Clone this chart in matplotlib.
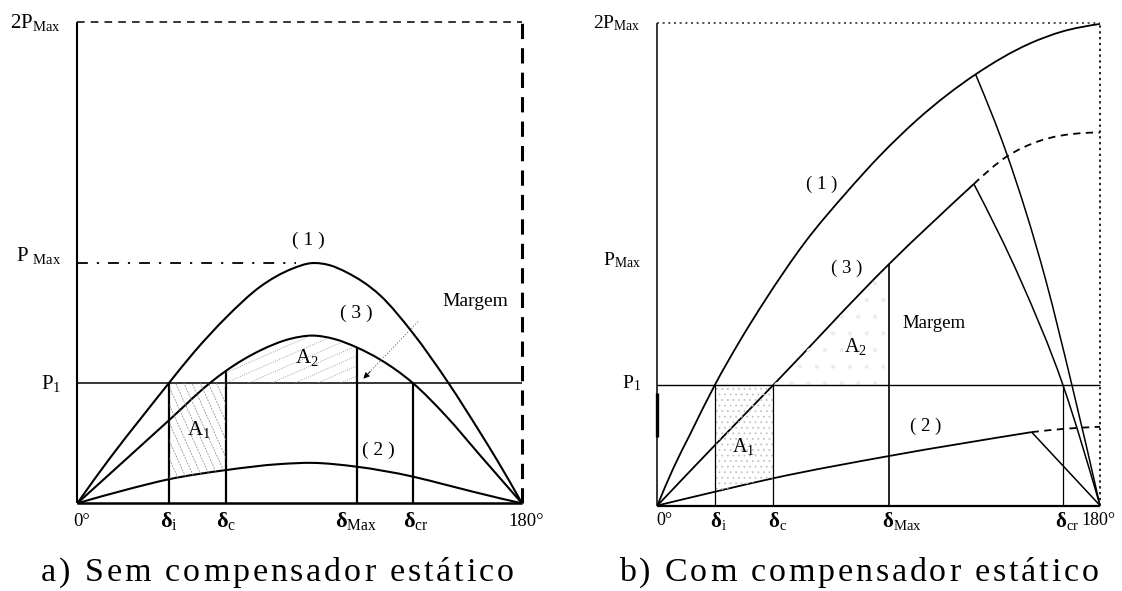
import numpy as np
import matplotlib
matplotlib.use('Agg')
import matplotlib.pyplot as plt
from matplotlib.patches import Polygon, PathPatch
from matplotlib.path import Path
from matplotlib.textpath import TextToPath
from matplotlib.font_manager import FontProperties

plt.rcParams['mathtext.fontset'] = 'custom'
plt.rcParams['mathtext.rm'] = 'Liberation Serif'
plt.rcParams['mathtext.it'] = 'Liberation Serif:italic'
plt.rcParams['mathtext.bf'] = 'Liberation Serif:bold'
plt.rcParams['font.family'] = ['Liberation Serif', 'DejaVu Serif']
plt.rcParams['hatch.linewidth'] = 0.6

# ---------------- data (angle in degrees, power in units of P_Max) ----------------
P1_LEVEL = 0.5
PMAX_LEVEL = 1.0
P2MAX_LEVEL = 2.0

# panel a) without static compensator
a_c1_deg = [0, 13, 26.5, 37.1, 47, 60.5, 74, 87, 94.6, 102, 109, 122.5, 136, 149.9, 163, 170, 180]
a_c1_p = [0, 0.185, 0.363, 0.5, 0.625, 0.775, 0.9, 0.975, 0.998, 0.99, 0.96, 0.865, 0.705, 0.505, 0.295, 0.178, 0]
a_c3_deg = [0, 37.1, 53.7, 60.1, 74, 86, 95.4, 104, 113.1, 122.5, 135.8, 149.5, 163, 180]
a_c3_p = [0, 0.345, 0.5, 0.55, 0.635, 0.683, 0.697, 0.683, 0.648, 0.598, 0.5, 0.36, 0.2, 0]
a_c2_deg = [0, 20, 37.1, 60.1, 82, 95.4, 113.1, 135.8, 149.5, 171, 180]
a_c2_p = [0, 0.057, 0.10, 0.138, 0.163, 0.168, 0.152, 0.111, 0.076, 0.021, 0]
a_delta_pos = [37.1, 60.1, 113.1, 135.8]
a_delta_top = [0.5, 0.55, 0.648, 0.5]
a_pmax_dash_end = 88.5

# panel b) with static compensator
b_c1_deg = [0, 6.5, 13.3, 23.4, 33.6, 43.8, 60, 77, 90.5, 106.1, 129.4, 151.5, 164.5, 180]
b_c1_p = [0, 0.155, 0.295, 0.5, 0.683, 0.85, 1.09, 1.298, 1.449, 1.602, 1.786, 1.914, 1.963, 1.995]
b_c3_deg = [0, 23.4, 47.2, 94.2, 128.7]
b_c3_p = [0, 0.25, 0.5, 1.0, 1.332]
b_c3_dash_deg = [128.7, 142, 155.6, 171.9, 180]
b_c3_dash_p = [1.332, 1.445, 1.511, 1.542, 1.545]
b_c2_deg = [0, 23.4, 47.2, 94.2, 152.2]
b_c2_p = [0, 0.057, 0.113, 0.205, 0.304]
b_c2_dash_deg = [152.2, 166, 180]
b_c2_dash_p = [0.304, 0.318, 0.326]
b_fall1_deg = [129.4, 142.0, 157.9, 168.6, 180]
b_fall1_p = [1.786, 1.459, 0.935, 0.498, 0]
b_fall3_deg = [128.7, 147.7, 164.9, 180]
b_fall3_p = [1.332, 0.934, 0.5, 0]
b_fall2_deg = [152.2, 180]
b_fall2_p = [0.304, 0]
b_delta_pos = [23.4, 47.2, 94.2, 164.9]
b_delta_top = [0.5, 0.5, 1.0, 0.5]

y_labels_a = [r'$\mathrm{2P}_{\mathrm{Max}}$', r'$\mathrm{P\ }_{\mathrm{Max}}$', r'$\mathrm{P}_{1}$']
y_labels_b = [r'$\mathrm{2P}_{\mathrm{Max}}$', r'$\mathrm{P}_{\mathrm{Max}}$', r'$\mathrm{P}_{1}$']
delta_labels = [r'$\mathbf{δ}_{\mathrm{i}}$', r'$\mathbf{δ}_{\mathrm{c}}$',
                r'$\mathbf{δ}_{\mathrm{Max}}$', r'$\mathbf{δ}_{\mathrm{cr}}$']
caption_a = "a) Sem compensador estático"
caption_b = "b) Com compensador estático"

# ---------------- figure ----------------
W, H = 1122, 591
fig = plt.figure(figsize=(W / 100, H / 100), dpi=100)


def px_axes(x0, x1, ytop, ybot):
    ax = fig.add_axes([x0 / W, (H - ybot) / H, (x1 - x0) / W, (ybot - ytop) / H])
    ax.set_xlim(0, 180)
    ax.set_ylim(0, 2)
    ax.axis('off')
    return ax


axa = px_axes(77.3, 522, 22.1, 503.3)
axb = px_axes(657.4, 1100, 22.7, 505.5)

K = 'black'


def line(ax, x, y, **kw):
    kw.setdefault('color', K)
    kw.setdefault('solid_capstyle', 'butt')
    ax.plot(x, y, clip_on=False, **kw)


def smooth(ax, x, y, color=K, **kw):
    """Smooth curve through the read points (cubic Hermite drawn as Bezier path)."""
    x = np.asarray(x, float)
    y = np.asarray(y, float)
    h = np.diff(x)
    d = np.diff(y) / h
    n = len(x)
    m = np.empty(n)
    if n == 2:
        m[:] = d[0]
    else:
        m[1:-1] = (d[:-1] * h[1:] + d[1:] * h[:-1]) / (h[:-1] + h[1:])
        m[0] = 1.5 * d[0] - 0.5 * m[1]
        m[-1] = 1.5 * d[-1] - 0.5 * m[-2]
    verts = [(x[0], y[0])]
    codes = [Path.MOVETO]
    for i in range(n - 1):
        verts += [(x[i] + h[i] / 3, y[i] + m[i] * h[i] / 3),
                  (x[i + 1] - h[i] / 3, y[i + 1] - m[i + 1] * h[i] / 3),
                  (x[i + 1], y[i + 1])]
        codes += [Path.CURVE4] * 3
    ax.add_patch(PathPatch(Path(verts, codes), facecolor='none', edgecolor=color,
                           clip_on=False, capstyle='butt', **kw))


def hatch(ax, poly, slope, offsets, xr, **kw):
    patch = Polygon(poly, closed=True, facecolor='none', edgecolor='none')
    ax.add_patch(patch)
    xs = np.array(xr)
    for c in offsets:
        ln, = ax.plot(xs, c + slope * xs, **kw)
        ln.set_clip_path(patch)


# ---- panel a ----
ax = axa
line(ax, [0, 0], [0, P2MAX_LEVEL], lw=1.5)
line(ax, [0, 180], [0, 0], lw=1.8)
line(ax, [0, 180], [P2MAX_LEVEL, P2MAX_LEVEL], lw=1.1, linestyle=(0, (5, 4)))
line(ax, [180, 180], [0, P2MAX_LEVEL], lw=2.2, linestyle=(0, (5, 3)))
line(ax, [0, 180], [P1_LEVEL, P1_LEVEL], lw=1.1)
line(ax, [0, a_pmax_dash_end], [PMAX_LEVEL, PMAX_LEVEL], lw=1.3, linestyle=(0, (6, 5, 1.2, 5)))
smooth(ax, a_c1_deg, a_c1_p, lw=1.5)
smooth(ax, a_c3_deg, a_c3_p, lw=1.5)
smooth(ax, a_c2_deg, a_c2_p, lw=1.5)
for xv, yt in zip(a_delta_pos, a_delta_top):
    line(ax, [xv, xv], [0, yt], lw=1.6)

# A1 hatch (between curve 2 and P1, from delta_i to delta_c)
i0, i1 = a_c2_deg.index(a_delta_pos[0]), a_c2_deg.index(a_delta_pos[1])
polyA1 = [(a_delta_pos[0], P1_LEVEL), (a_delta_pos[1], P1_LEVEL)] + \
         [(a_c2_deg[k], a_c2_p[k]) for k in range(i1, i0 - 1, -1)]
s1 = -0.0226
hatch(ax, polyA1, s1, [P1_LEVEL - s1 * c for c in np.arange(20, 85, 3.3)], [20, 90],
      color='#8a8a8a', lw=0.55, linestyle=(0, (2.5, 1.5)))
# A2 hatch (between P1 and curve 3, from delta_c to delta_Max)
j0, j1 = a_c3_deg.index(a_delta_pos[1]), a_c3_deg.index(a_delta_pos[2])
polyA2 = [(a_c3_deg[k], a_c3_p[k]) for k in range(j0, j1 + 1)] + \
         [(a_delta_pos[2], P1_LEVEL), (a_delta_pos[1], P1_LEVEL)]
s2 = 0.0045
hatch(ax, polyA2, s2, np.arange(0.02, 0.75, 0.042), [55, 120],
      color='#9a9a9a', lw=0.6, linestyle=(0, (1.2, 1.5)))

# dotted arrow pointing to the margin
line(ax, [137.9, 117.8], [0.755, 0.54], lw=0.8, color='#777777', linestyle=(0, (1, 1.6)))
ax.annotate('', xy=(115.8, 0.518), xytext=(118.6, 0.548),
            arrowprops=dict(arrowstyle='-|>', color=K, lw=0.6, mutation_scale=9,
                            shrinkA=0, shrinkB=0), annotation_clip=False)

fs_lab = 14
ax.text(93.4, 1.094, '( 1 )', ha='center', va='center', fontsize=fs_lab)
ax.text(112.8, 0.791, '( 3 )', ha='center', va='center', fontsize=fs_lab)
ax.text(121.7, 0.222, '( 2 )', ha='center', va='center', fontsize=fs_lab)
ax.text(49.1, 0.305, r'$\mathrm{A}_{1}$', ha='center', va='center', fontsize=15)
ax.text(92.8, 0.604, r'$\mathrm{A}_{2}$', ha='center', va='center', fontsize=15)
ax.text(161.1, 0.838, 'Margem', ha='center', va='center', fontsize=14)
for lab, yv in zip(y_labels_a, [P2MAX_LEVEL, PMAX_LEVEL + 0.03, P1_LEVEL]):
    ax.text(-6.6, yv, lab, ha='right', va='center', fontsize=15)
ax.text(-1.5, -0.0736, '0°', ha='left', va='center', fontsize=13.5)
ax.text(181.5, -0.0736, '180°', ha='center', va='center', fontsize=13.5)
for lab, xv in zip(delta_labels, [37.1, 60.1, 112.8, 137.0]):
    ax.text(xv, -0.0736, lab, ha='center', va='center', fontsize=16)

# ---- panel b ----
ax = axb
line(ax, [0, 0], [0, P2MAX_LEVEL], lw=1.1)
line(ax, [0, 0], [0.284, 0.466], lw=2.4)
line(ax, [0, 180], [0, 0], lw=1.6)
line(ax, [0, 180], [P2MAX_LEVEL, P2MAX_LEVEL], lw=1.2, linestyle=(0, (1.2, 2.2)), color='#333333')
line(ax, [180, 180], [0, P2MAX_LEVEL], lw=1.4, linestyle=(0, (1.2, 1.8)), color='#222222')
line(ax, [0, 180], [P1_LEVEL, P1_LEVEL], lw=1.0)
smooth(ax, b_c1_deg, b_c1_p, lw=1.3)
smooth(ax, b_c3_deg, b_c3_p, lw=1.3)
smooth(ax, b_c3_dash_deg, b_c3_dash_p, lw=1.3, linestyle=(0, (4, 3)))
smooth(ax, b_c2_deg, b_c2_p, lw=1.3)
smooth(ax, b_c2_dash_deg, b_c2_dash_p, lw=1.3, linestyle=(0, (4, 3)))
smooth(ax, b_fall1_deg, b_fall1_p, lw=1.1)
smooth(ax, b_fall3_deg, b_fall3_p, lw=1.1)
line(ax, b_fall2_deg, b_fall2_p, lw=1.1)
for xv, yt, lw_ in zip(b_delta_pos, b_delta_top, [0.9, 0.9, 1.2, 0.9]):
    line(ax, [xv, xv], [0, yt], lw=lw_)

# stippled areas
polyB1 = [(b_delta_pos[0], P1_LEVEL), (b_delta_pos[1], P1_LEVEL),
          (b_c2_deg[2], b_c2_p[2]), (b_c2_deg[1], b_c2_p[1])]
ax.add_patch(Polygon(polyB1, closed=True, facecolor='none', edgecolor='#c4c4c4', lw=0, hatch='...'))
polyB2 = [(b_c3_deg[2], b_c3_p[2]), (b_c3_deg[3], b_c3_p[3]), (b_delta_pos[2], P1_LEVEL)]
ax.add_patch(Polygon(polyB2, closed=True, facecolor='none', edgecolor='#ececec', lw=0, hatch='.'))

fs_b = 13.5
ax.text(66.7, 1.332, '( 1 )', ha='center', va='center', fontsize=fs_b)
ax.text(76.9, 0.984, '( 3 )', ha='center', va='center', fontsize=fs_b)
ax.text(109.2, 0.329, '( 2 )', ha='center', va='center', fontsize=fs_b)
ax.text(35.2, 0.246, r'$\mathrm{A}_{1}$', ha='center', va='center', fontsize=14.5)
ax.text(80.4, 0.657, r'$\mathrm{A}_{2}$', ha='center', va='center', fontsize=14.5)
ax.text(112.5, 0.756, 'Margem', ha='center', va='center', fontsize=13.5)
for lab, yv in zip(y_labels_b, [P2MAX_LEVEL, PMAX_LEVEL + 0.016, P1_LEVEL + 0.007]):
    ax.text(-6.7, yv, lab, ha='right', va='center', fontsize=14)
ax.text(-0.3, -0.064, '0°', ha='left', va='center', fontsize=13)
ax.text(179.4, -0.064, '180°', ha='center', va='center', fontsize=13)
for lab, xv in zip(delta_labels, [24.6, 49.0, 99.2, 166.5]):
    ax.text(xv, -0.064, lab, ha='center', va='center', fontsize=15)

# ---------------- captions with wide letter spacing ----------------
ttp = TextToPath()


def spaced_caption(x_left, x_right, y_base, s, size):
    fp = FontProperties(family='Liberation Serif', size=size)
    base = ttp.get_text_width_height_descent('||', fp, ismath=False)[0]
    widths = [(ttp.get_text_width_height_descent('|' + ch + '|', fp, ismath=False)[0] - base) * 100 / 72
              for ch in s]
    natural = sum(widths[:-1]) + widths[-1] * 0.85
    track = (x_right - x_left - natural) / (len(s) - 1)
    x = x_left
    for ch, w in zip(s, widths):
        fig.text(x / W, 1 - y_base / H, ch, fontsize=size, family='Liberation Serif',
                 ha='left', va='baseline')
        x += w + track


spaced_caption(41, 511, 581, caption_a, 24.5)
spaced_caption(619, 1096, 581, caption_b, 24.5)

fig.savefig('out.png', dpi=100, facecolor='white')
